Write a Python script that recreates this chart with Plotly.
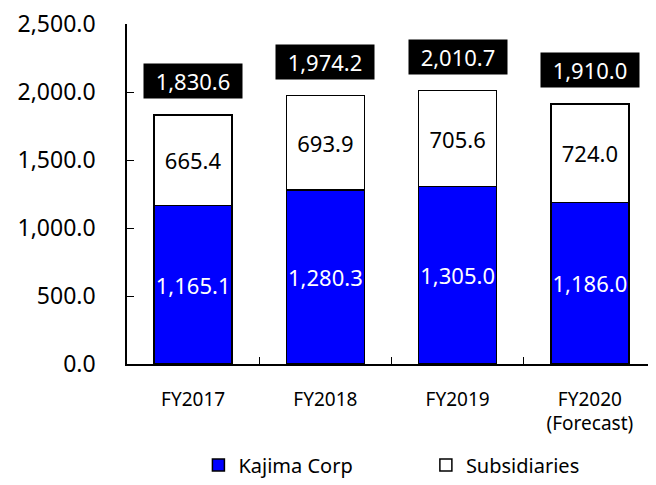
import plotly.graph_objects as go

years = ["FY2017", "FY2018", "FY2019", "FY2020<br>(Forecast)"]
kajima = [1165.1, 1280.3, 1305.0, 1186.0]
subsidiaries = [665.4, 693.9, 705.6, 724.0]
totals = [1830.6, 1974.2, 2010.7, 1910.0]

FONT = "Noto Sans"

fig = go.Figure()
fig.add_trace(go.Bar(
    x=years, y=kajima, name="Kajima Corp", legend="legend",
    marker=dict(color="#0000FF", line=dict(color="black", width=1.5)),
    text=[f"{v:,.1f}" for v in kajima], textposition="inside", textangle=0,
    insidetextanchor="middle", constraintext="none",
    textfont=dict(color="white", size=22, family=FONT),
))
fig.add_trace(go.Bar(
    x=years, y=subsidiaries, name="Subsidiaries", legend="legend2",
    marker=dict(color="white", line=dict(color="black", width=1.5)),
    text=[f"{v:,.1f}" for v in subsidiaries], textposition="inside", textangle=0,
    insidetextanchor="middle", constraintext="none",
    textfont=dict(color="black", size=22, family=FONT),
))

# total labels in black boxes
for x, t in zip(years, totals):
    fig.add_annotation(
        x=x, y=t, text=f"{t:,.1f}", showarrow=False,
        yanchor="bottom", yshift=16, width=94,
        bgcolor="black", borderpad=2,
        font=dict(color="white", size=22, family=FONT),
    )

leg = dict(orientation="h", xanchor="left", y=-0.297, yanchor="middle",
           font=dict(size=20), itemwidth=30, bgcolor="rgba(0,0,0,0)")

# page body has an 8px margin, so the figure is sized/offset to compensate
fig.update_layout(
    width=648, height=477,
    barmode="stack", bargap=0.41,
    plot_bgcolor="white", paper_bgcolor="white",
    margin=dict(l=119, r=0, t=16, b=117),
    font=dict(family=FONT, color="black"),
    showlegend=True,
    legend=dict(leg, x=0.135),
    legend2=dict(leg, x=0.565),
    xaxis=dict(
        showline=True, linecolor="black", linewidth=1.5, automargin=False,
        ticks="inside", tickson="boundaries", ticklen=7, tickcolor="black",
        tickfont=dict(size=19), showgrid=False, ticklabelstandoff=17,
    ),
    yaxis=dict(
        range=[0, 2500], tickvals=[0, 500, 1000, 1500, 2000, 2500],
        tickformat=",.1f", showline=True, linecolor="black", linewidth=1.5,
        ticks="inside", ticklen=7, tickcolor="black", automargin=False,
        tickfont=dict(size=23), showgrid=False, zeroline=False,
        ticklabelstandoff=25, ticklabeloverflow="allow",
    ),
)

fig.write_html("out.html")
